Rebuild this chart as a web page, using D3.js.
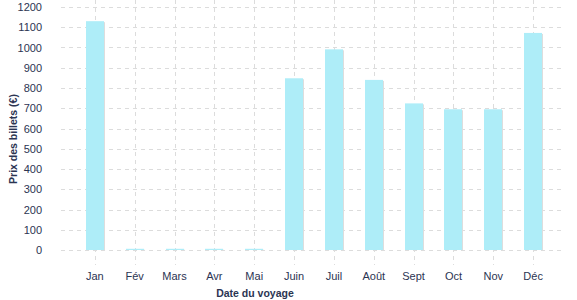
<!DOCTYPE html>
<html>
<head>
<meta charset="utf-8">
<script src="https://cdn.jsdelivr.net/npm/d3@7"></script>
<style>
  body { margin: 0; background: #fff; }
  text { font-family: "Liberation Sans", Arial, sans-serif; fill: #2b3452; }
</style>
</head>
<body>
<svg id="chart"></svg>
<script>
var months = ["Jan", "Fév", "Mars", "Avr", "Mai", "Juin", "Juil", "Août", "Sept", "Oct", "Nov", "Déc"];
var prices = [1130, 6, 6, 6, 6, 848, 991, 840, 724, 695, 695, 1072];
var yTicks = [0, 100, 200, 300, 400, 500, 600, 700, 800, 900, 1000, 1100, 1200];

var width = 577;
var height = 300;
var svg = d3.select("#chart")
  .attr("width", width)
  .attr("height", height);

var plotLeft = 61, plotRight = 563, plotTop = 7, plotBottom = 250;

var x = d3.scalePoint()
  .domain(months)
  .range([plotLeft + 2, plotRight + 2])
  .padding(0.8);

var y = d3.scaleLinear()
  .domain([0, 1200])
  .range([plotBottom, plotTop]);

var barW = 18;

// horizontal grid
svg.append("g")
  .selectAll("line")
  .data(yTicks)
  .join("line")
  .attr("x1", plotLeft)
  .attr("x2", plotRight)
  .attr("y1", d => Math.round(y(d)) + 0.5)
  .attr("y2", d => Math.round(y(d)) + 0.5)
  .attr("stroke", "#dcdcdc")
  .attr("stroke-dasharray", "4,4");

// vertical grid
svg.append("g")
  .selectAll("line")
  .data(months)
  .join("line")
  .attr("x1", d => Math.round(x(d)) + 0.5)
  .attr("x2", d => Math.round(x(d)) + 0.5)
  .attr("y1", 0)
  .attr("y2", 265)
  .attr("stroke", "#dcdcdc")
  .attr("stroke-dasharray", "4,4");

// bar shadows
svg.append("g")
  .selectAll("rect")
  .data(prices)
  .join("rect")
  .attr("x", (d, i) => Math.round(x(months[i]) - barW / 2) + 1)
  .attr("y", d => y(d) + 1)
  .attr("width", barW)
  .attr("height", d => Math.max(0, plotBottom - y(d) - 1))
  .attr("fill", "#dddddd");

// bars
svg.append("g")
  .selectAll("rect")
  .data(prices)
  .join("rect")
  .attr("x", (d, i) => Math.round(x(months[i]) - barW / 2))
  .attr("y", d => y(d))
  .attr("width", barW)
  .attr("height", d => plotBottom - y(d))
  .attr("fill", "#aeedf8");

// y tick labels
svg.append("g")
  .selectAll("text")
  .data(yTicks)
  .join("text")
  .attr("x", 42)
  .attr("y", d => y(d) + 4)
  .attr("text-anchor", "end")
  .style("font-size", "11px")
  .text(d => d);

// x tick labels
svg.append("g")
  .selectAll("text")
  .data(months)
  .join("text")
  .attr("x", d => x(d))
  .attr("y", 280)
  .attr("text-anchor", "middle")
  .style("font-size", "11px")
  .text(d => d);

svg.append("text")
  .attr("x", 255)
  .attr("y", 297)
  .attr("text-anchor", "middle")
  .style("font-size", "10.5px")
  .style("font-weight", "bold")
  .text("Date du voyage");

svg.append("text")
  .attr("transform", "translate(17,139) rotate(-90)")
  .attr("text-anchor", "middle")
  .style("font-size", "10.5px")
  .style("font-weight", "bold")
  .text("Prix des billets (€)");
</script>
</body>
</html>
